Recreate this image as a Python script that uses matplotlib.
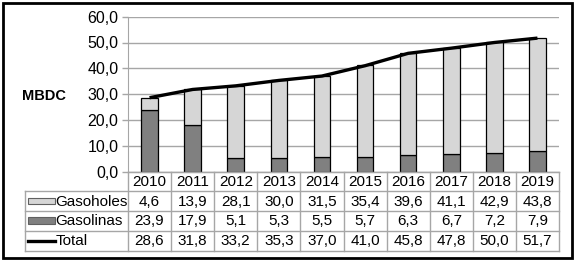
import matplotlib
matplotlib.use('Agg')
import matplotlib.pyplot as plt
from matplotlib.patches import Rectangle
from matplotlib.lines import Line2D
import numpy as np

plt.rcParams['font.family'] = ['Liberation Sans', 'DejaVu Sans']

years = ['2010', '2011', '2012', '2013', '2014', '2015', '2016', '2017', '2018', '2019']
gasoholes = [4.6, 13.9, 28.1, 30.0, 31.5, 35.4, 39.6, 41.1, 42.9, 43.8]
gasolinas = [23.9, 17.9, 5.1, 5.3, 5.5, 5.7, 6.3, 6.7, 7.2, 7.9]
total = [28.6, 31.8, 33.2, 35.3, 37.0, 41.0, 45.8, 47.8, 50.0, 51.7]
row_names = ['Gasoholes', 'Gasolinas', 'Total']

c_light = '#d6d6d6'
c_dark = '#808080'
c_grid = '#a6a6a6'

W, H = 580, 264
fig = plt.figure(figsize=(W / 100, H / 100), dpi=100)

# plot area in pixel units
x0, x1 = 128, 559
y_top, y_bot = 16.7, 171.5
ax = fig.add_axes([x0 / W, 1 - y_bot / H, (x1 - x0) / W, (y_bot - y_top) / H])

x = np.arange(len(years))
ax.bar(x, gasolinas, width=0.385, color=c_dark, edgecolor='black', linewidth=0.9, zorder=3)
ax.bar(x, gasoholes, width=0.385, bottom=gasolinas, color=c_light, edgecolor='black',
       linewidth=0.9, zorder=3)
ax.plot(x, total, color='black', linewidth=2.4, zorder=4, solid_capstyle='butt')

ax.set_xlim(-0.5, len(years) - 0.5)
ax.set_ylim(0, 60)
ax.set_yticks(np.arange(0, 61, 10))
ax.yaxis.set_major_formatter(lambda v, p: f'{v:.1f}'.replace('.', ','))
ax.set_xticks([])
ax.grid(axis='y', color=c_grid, linewidth=1.0, zorder=0)
ax.tick_params(axis='y', length=4, width=1, color=c_grid, labelsize=11.5, pad=3)
for s in ['top', 'right']:
    ax.spines[s].set_visible(False)
ax.spines['left'].set_color(c_grid)
ax.spines['bottom'].set_color(c_grid)

fig.text(22 / W, 1 - 96 / H, 'MBDC', fontsize=10.5, fontweight='bold', va='center', ha='left')

# table drawn in pixel coordinates
tax = fig.add_axes([0, 0, 1, 1])
tax.set_xlim(0, W)
tax.set_ylim(H, 0)
tax.axis('off')

cw = (x1 - x0) / len(years)
rows_y = [171.5, 191, 211, 230.5, 250.5]
tleft = 25
lc = dict(color=c_grid, linewidth=1.0)

# horizontal lines
tax.plot([x0, x1], [rows_y[0], rows_y[0]], **lc)
for yy in rows_y[1:]:
    tax.plot([tleft, x1], [yy, yy], **lc)
# vertical lines
tax.plot([tleft, tleft], [rows_y[1], rows_y[-1]], **lc)
for i in range(len(years) + 1):
    xx = x0 + i * cw
    tax.plot([xx, xx], [rows_y[0], rows_y[-1]], **lc)

fs = 11
for i, yr in enumerate(years):
    cx = x0 + (i + 0.5) * cw
    tax.text(cx, (rows_y[0] + rows_y[1]) / 2 + 0.5, yr, ha='center', va='center', fontsize=fs)
    for r, vals in enumerate([gasoholes, gasolinas, total]):
        cy = (rows_y[r + 1] + rows_y[r + 2]) / 2 + 0.5
        tax.text(cx, cy, f'{vals[i]:.1f}'.replace('.', ','), ha='center', va='center', fontsize=fs)

# row labels with legend keys
for r, name in enumerate(row_names):
    cy = (rows_y[r + 1] + rows_y[r + 2]) / 2
    if r < 2:
        tax.add_patch(Rectangle((28, cy - 3.3), 27, 6.6, facecolor=[c_light, c_dark][r],
                                edgecolor='#606060', linewidth=0.8))
    else:
        tax.add_line(Line2D([28, 55], [cy, cy], color='black', linewidth=2.4))
    tax.text(55.5, cy + 0.5, name, ha='left', va='center', fontsize=fs)

# outer frame
tax.add_patch(Rectangle((3, 3), 569, 255, fill=False, edgecolor='black', linewidth=2))

fig.savefig('out.png', dpi=100)
